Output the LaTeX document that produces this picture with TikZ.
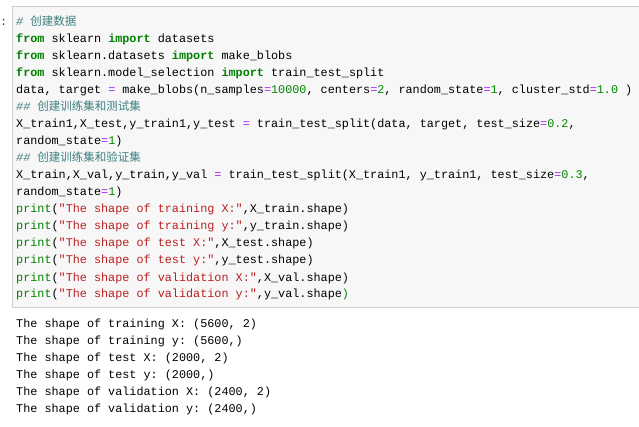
\documentclass[tikz,border=0pt]{standalone}
\usepackage{fontspec}
\setmonofont{Liberation Mono}
\newfontfamily\cjk{Noto Sans CJK SC}
\definecolor{kwc}{HTML}{008000}
\definecolor{cmc}{HTML}{408080}
\definecolor{opc}{HTML}{AA22FF}
\definecolor{nmc}{HTML}{008800}
\definecolor{stc}{HTML}{BA2121}
\definecolor{cellbg}{HTML}{F7F7F7}
\definecolor{cellbd}{HTML}{CFCFCF}
\definecolor{promptc}{HTML}{303F9F}
\newcommand{\kw}[1]{\textcolor{kwc}{\bfseries #1}}
\newcommand{\pk}[1]{\textcolor{kwc}{#1}}
\newcommand{\cm}[1]{\textcolor{cmc}{\itshape #1}}
\newcommand{\cn}[1]{\textcolor{cmc}{{\cjk\fontsize{11.5}{12}\selectfont #1}}}
\newcommand{\op}[1]{\textcolor{opc}{#1}}
\newcommand{\nm}[1]{\textcolor{nmc}{#1}}
\newcommand{\st}[1]{\textcolor{stc}{#1}}
\tikzset{codeline/.style={anchor=base west,inner sep=0pt,font=\ttfamily\fontsize{11.8}{12}\selectfont}}
\begin{document}
\begin{tikzpicture}[x=1pt,y=-1pt]
\useasboundingbox (0,0) rectangle (639,427);
\fill[white] (0,0) rectangle (639,427);
\node[draw=cellbd,fill=cellbg,line width=0.8pt,anchor=north west,minimum width=640,minimum height=301,inner sep=0pt] (cell) at (12,6) {};
\node[codeline,text=promptc] (prompt) at (0,26) {:};
\node[codeline] (l1) at (16,26) {\cm{\#} \cn{创建数据}};
\node[codeline] (l2) at (16,43) {\kw{from} sklearn \kw{import} datasets};
\node[codeline] (l3) at (16,60) {\kw{from} sklearn.datasets \kw{import} make\_blobs};
\node[codeline] (l4) at (16,77) {\kw{from} sklearn.model\_selection \kw{import} train\_test\_split};
\node[codeline] (l5) at (16,94) {data, target \op{=} make\_blobs(n\_samples\op{=}\nm{10000}, centers\op{=}\nm{2}, random\_state\op{=}\nm{1}, cluster\_std\op{=}\nm{1.0} )};
\node[codeline] (l6) at (16,111) {\cm{\#\#} \cn{创建训练集和测试集}};
\node[codeline] (l7) at (16,128) {X\_train1,X\_test,y\_train1,y\_test \op{=} train\_test\_split(data, target, test\_size\op{=}\nm{0.2},};
\node[codeline] (l8) at (16,145) {random\_state\op{=}\nm{1})};
\node[codeline] (l9) at (16,162) {\cm{\#\#} \cn{创建训练集和验证集}};
\node[codeline] (l10) at (16,179) {X\_train,X\_val,y\_train,y\_val \op{=} train\_test\_split(X\_train1, y\_train1, test\_size\op{=}\nm{0.3},};
\node[codeline] (l11) at (16,196) {random\_state\op{=}\nm{1})};
\node[codeline] (l12) at (16,213) {\pk{print}(\st{"The shape of training X:"},X\_train.shape)};
\node[codeline] (l13) at (16,230) {\pk{print}(\st{"The shape of training y:"},y\_train.shape)};
\node[codeline] (l14) at (16,247) {\pk{print}(\st{"The shape of test X:"},X\_test.shape)};
\node[codeline] (l15) at (16,264) {\pk{print}(\st{"The shape of test y:"},y\_test.shape)};
\node[codeline] (l16) at (16,281) {\pk{print}(\st{"The shape of validation X:"},X\_val.shape)};
\node[codeline] (l17) at (16,298) {\pk{print}(\st{"The shape of validation y:"},y\_val.shape\pk{)}};
\node[codeline] (o1) at (16,327) {The shape of training X: (5600, 2)};
\node[codeline] (o2) at (16,344) {The shape of training y: (5600,)};
\node[codeline] (o3) at (16,361) {The shape of test X: (2000, 2)};
\node[codeline] (o4) at (16,378) {The shape of test y: (2000,)};
\node[codeline] (o5) at (16,395) {The shape of validation X: (2400, 2)};
\node[codeline] (o6) at (16,412) {The shape of validation y: (2400,)};
\end{tikzpicture}
\end{document}
